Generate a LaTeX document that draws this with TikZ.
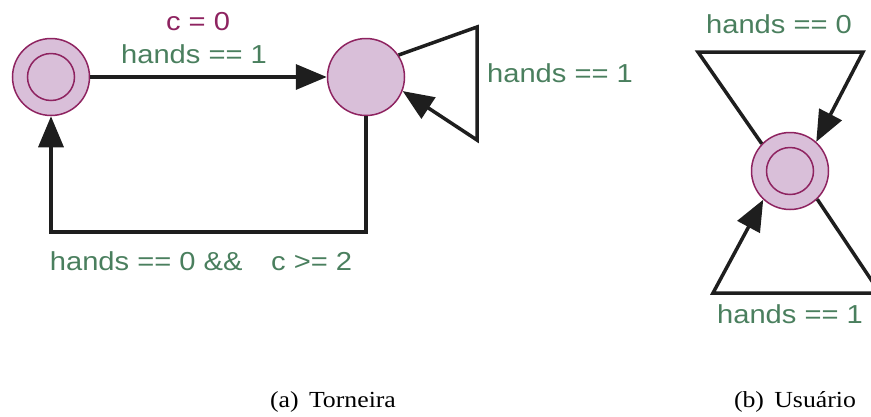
\documentclass[tikz,border=0pt]{standalone}
\usepackage{fontspec}
\setmainfont{Liberation Serif}
\newfontfamily\labfont[FakeStretch=1.12]{Liberation Sans}
\newfontfamily\capfont[FakeStretch=1.12]{Liberation Serif}
\usetikzlibrary{arrows.meta}
\definecolor{locfill}{HTML}{D9BFD9}
\definecolor{locdraw}{HTML}{8E2360}
\definecolor{grd}{HTML}{4A7F5E}
\definecolor{asg}{HTML}{8E2360}
\definecolor{edgecol}{HTML}{1E1E1E}
\begin{document}
\begin{tikzpicture}[x=1pt,y=-1pt,
  loc/.style={circle, draw=locdraw, fill=locfill, line width=1.5pt, minimum size=77pt, inner sep=0pt},
  innerloc/.style={circle, draw=locdraw, line width=1.5pt, minimum size=47pt, inner sep=0pt},
  edge/.style={line width=3.5pt, draw=edgecol, line join=miter},
  arr/.style={-{Triangle[length=31pt,width=25pt]}},
  guard/.style={text=grd, font=\labfont\fontsize{26}{28}\selectfont, inner sep=0pt, anchor=base},
  assign/.style={text=asg, font=\labfont\fontsize{26}{28}\selectfont, inner sep=0pt, anchor=base},
  capt/.style={font=\capfont\fontsize{23}{25}\selectfont, inner sep=0pt, anchor=base}]
\useasboundingbox (0,0) rectangle (871,416);
\clip (0,0) rectangle (871,416);
% locations
\node[loc] (A) at (51,77) {};
\node[innerloc] (Ai) at (A) {};
\node[loc] (B) at (366,77) {};
\node[loc] (C) at (790,171) {};
\node[innerloc] (Ci) at (C) {};
% Torneira edges
\draw[edge,arr] (A) -- (B);
\coordinate (b1) at (477,27);
\coordinate (b2) at (477,140);
\draw[edge,arr] (B.34) -- (b1) -- (b2) -- (B.-21);
\coordinate (r1) at (366,232);
\coordinate (r2) at (51,232);
\draw[edge,arr] (B.south) -- (r1) -- (r2) -- (A.south);
% Usuario edges
\coordinate (t1) at (698,52);
\coordinate (t2) at (863,52);
\draw[edge,arr] (C.136) -- (t1) -- (t2) -- (C.48);
\coordinate (u1) at (880,293);
\coordinate (u2) at (713,293);
\draw[edge,arr] (C.-46) -- (u1) -- (u2) -- (C.-133);
% labels
\node[assign] (l1) at (198,30) {c = 0};
\node[guard] (l2) at (194,63) {hands == 1};
\node[guard] (l3) at (560,82) {hands == 1};
\node[guard] (l4) at (201,270) {hands == 0 \&\&\hspace{1.1em}c >= 2};
\node[guard] (l5) at (779,33) {hands == 0};
\node[guard] (l6) at (790,323) {hands == 1};
\node[capt] (ca) at (333,407) {(a)\hspace{0.45em}Torneira};
\node[capt] (cb) at (795,407) {(b)\hspace{0.45em}Usuário};
\end{tikzpicture}
\end{document}
